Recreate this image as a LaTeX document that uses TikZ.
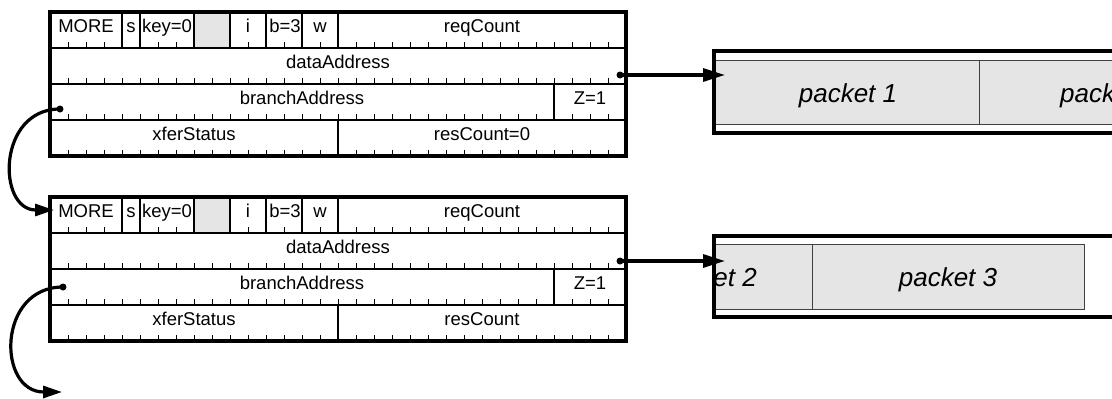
\documentclass[tikz,border=0pt]{standalone}
\usepackage{fontspec}
\setmainfont{Liberation Sans}
\usetikzlibrary{arrows.meta}
\tikzset{
  tickln/.style={line width=1pt},
  fieldln/.style={line width=1.1pt},
  outerbox/.style={line width=3.8pt},
  lbl/.style={anchor=base,inner sep=0pt,font=\fontsize{18.5}{22}\selectfont},
  pktlbl/.style={anchor=base,inner sep=0pt,font=\fontsize{26}{30}\selectfont\itshape},
  pkt/.style={fill=gray!20,draw=black!75,line width=1pt},
  conn/.style={line width=3.2pt,-{Triangle[length=22pt,width=13pt]}},
  curveconn/.style={line width=3.2pt,-{Triangle[length=19pt,width=12pt]}},
  dotmark/.style={fill=black}
}
\newcommand{\descr}[3]{%
\begin{scope}[shift={(0,#1)}]
  \foreach \r in {1,2,3,4}{\foreach \k in {1,...,31}{\draw[tickln] (50+18*\k,36*\r) -- ++(0,-6);}}
  \fill[gray!20] (50+18*8+0.5,1.5) rectangle (50+18*10-0.5,35.5);
  \foreach \k in {4,5,8,10,12,14,16}{\draw[fieldln] (50+18*\k,0) -- (50+18*\k,36);}
  \draw[fieldln] (50+18*28,72) -- (50+18*28,108);
  \draw[fieldln] (50+18*16,108) -- (50+18*16,144);
  \foreach \r in {1,2,3}{\draw[fieldln] (50,36*\r) -- (626,36*\r);}
  \draw[outerbox] (50,0) rectangle (626,144);
  \node[lbl] (#2more) at (86,20) {MORE};
  \node[lbl] (#2s) at (131,20) {s};
  \node[lbl] (#2key) at (167,20) {key=0};
  \node[lbl] (#2i) at (248,20) {i};
  \node[lbl] (#2b) at (285,20) {b=3};
  \node[lbl] (#2w) at (320,20) {w};
  \node[lbl] (#2req) at (482,20) {reqCount};
  \node[lbl] (#2data) at (338,56) {dataAddress};
  \node[lbl] (#2branch) at (302,92) {branchAddress};
  \node[lbl] (#2z) at (590,92) {Z=1};
  \node[lbl] (#2xfer) at (194,128) {xferStatus};
  \node[lbl] (#2res) at (482,128) {#3};
\end{scope}}
\begin{document}
\begin{tikzpicture}[x=1pt,y=-1pt]
\clip (0,0) rectangle (1112,399);
\fill[white] (0,0) rectangle (1112,399);

\descr{12}{a}{resCount=0}
\descr{197}{b}{resCount}

% packet buffer A
\begin{scope}
  \clip (714,51) rectangle (1150,133);
  \draw[pkt] (700,60) rectangle (979,124);
  \draw[pkt] (979,60) rectangle (1250,124);
  \node[pktlbl] (p1) at (848,102) {packet 1};
  \node[pktlbl,anchor=base west] (p2a) at (1060,102) {packet 2};
\end{scope}
\draw[outerbox] (714,51) rectangle (1150,133);

% packet buffer B
\begin{scope}
  \clip (714,236) rectangle (1150,317);
  \draw[pkt] (600,244) rectangle (812,309);
  \draw[pkt] (812,244) rectangle (1084,309);
  \node[pktlbl,anchor=base east] (p2b) at (757,286) {packet 2};
  \node[pktlbl] (p3) at (948,286) {packet 3};
\end{scope}
\draw[outerbox] (714,236) rectangle (1150,317);

% connector end points
\coordinate (da) at (620,75);
\coordinate (db) at (620,261);
\coordinate (ba) at (60,109);
\coordinate (bb) at (63,287);
\coordinate (ta) at (725,75);
\coordinate (tb) at (725,261);
\coordinate (mb) at (54,210);
\coordinate (nx) at (62,392);

\draw[conn] (da) -- (ta);
\draw[conn] (db) -- (tb);
\draw[curveconn] (ba) .. controls (-3,109) and (-3,210) .. (mb);
\draw[curveconn] (bb) .. controls (-3,287) and (-3,392) .. (nx);
\fill[dotmark] (da) circle (3.5);
\fill[dotmark] (db) circle (3.5);
\fill[dotmark] (ba) circle (3.5);
\fill[dotmark] (bb) circle (3.5);
\end{tikzpicture}
\end{document}
